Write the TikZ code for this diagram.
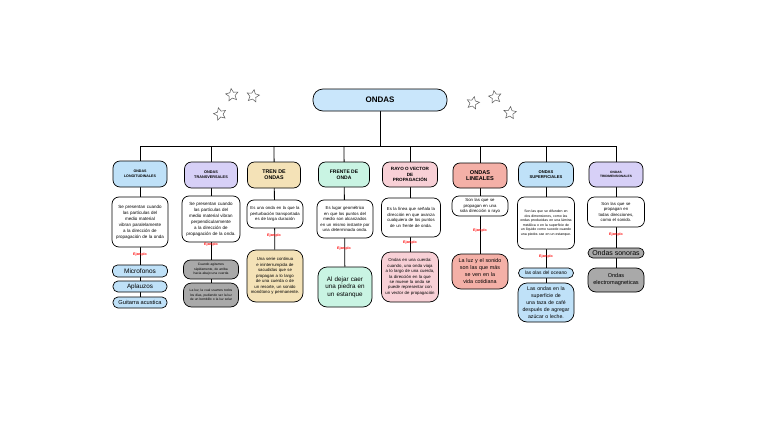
\documentclass[tikz,border=0pt]{standalone}
\usepackage{fontspec}
\setmainfont{Liberation Sans}
\usetikzlibrary{shapes.geometric,backgrounds}
\definecolor{blueC}{HTML}{BFE1F8}
\definecolor{titleC}{HTML}{C9E6FB}
\definecolor{lavC}{HTML}{D7D0F7}
\definecolor{tanC}{HTML}{F4E2B7}
\definecolor{mintC}{HTML}{C9F4E3}
\definecolor{pinkC}{HTML}{F8D0D6}
\definecolor{salmC}{HTML}{F4B0A7}
\definecolor{grayC}{HTML}{A9A9A9}
\newcommand\fsz[2]{\fontsize{#1}{#2}\selectfont}
\hyphenpenalty=10000
\exhyphenpenalty=10000
\lefthyphenmin=60
\righthyphenmin=60
\begin{document}
\begin{tikzpicture}[x=1pt,y=-1pt,
  box/.style={draw=black, line width=0.7pt, rounded corners=7pt, align=center, inner sep=1pt},
  hdr/.style={box, font=\bfseries},
  desc/.style={box, fill=white},
  ejlab/.style={text=red, font=\bfseries\fsz{3.5}{4}, inner sep=0.5pt},
  conn/.style={draw=black, line width=0.8pt},
  starshape/.style={star, star points=5, star point ratio=2.1, minimum size=13pt, inner sep=0pt, draw=black!65, fill=white, line width=0.5pt}]
\path[use as bounding box] (0,0) rectangle (768,431);

% title
\node[box, fill=titleC, rounded corners=10pt, minimum width=134pt, minimum height=22pt, font=\bfseries\fsz{8}{9}] (title) at (380,100) {ONDAS};
\coordinate (bar) at (380,146);

% stars
\node[starshape, rotate=8] (s1) at (232,95) {};
\node[starshape, rotate=-10] (s2) at (253,96) {};
\node[starshape, rotate=15] (s3) at (220,114) {};
\node[starshape, rotate=-12] (s4) at (473,103) {};
\node[starshape, rotate=10] (s5) at (495,97) {};
\node[starshape, rotate=-5] (s6) at (510,113) {};

% column 1
\node[hdr, fill=blueC, minimum width=54pt, minimum height=26pt, font=\bfseries\fsz{3.6}{4.6}] (h1) at (140,174) {ONDAS\\LONGITUDINALES};
\node[desc, minimum width=56pt, minimum height=50pt, text width=52pt, font=\fsz{4.5}{6}] (d1) at (140,222) {Se presentan cuando\\las partículas del medio material vibran paralelamente a la dirección de propagación de la onda};
\node[ejlab] (j1) at (140,255) {Ejemplo};
\node[box, fill=blueC, rounded corners=5pt, minimum width=55pt, minimum height=12pt, font=\fsz{6.5}{7}] (e1a) at (140,271) {Microfonos};
\node[box, fill=blueC, rounded corners=5pt, minimum width=54pt, minimum height=11pt, font=\fsz{6.3}{7}] (e1b) at (140,286.5) {Aplauzos};
\node[box, fill=blueC, rounded corners=5pt, minimum width=54pt, minimum height=11pt, font=\fsz{5.7}{7}] (e1c) at (140,302.5) {Guitarra acustica};

% column 2
\node[hdr, fill=lavC, minimum width=53pt, minimum height=26pt, font=\bfseries\fsz{3.8}{4.8}] (h2) at (211,175) {ONDAS\\TRANSVERSALES};
\node[desc, minimum width=58pt, minimum height=46pt, text width=54pt, font=\fsz{4.5}{6}] (d2) at (211,219) {Se presentan cuando las partículas del medio material vibran perpendicularmente a la dirección de propagación de la onda.};
\node[ejlab] (j2) at (211,245) {Ejemplo};
\node[box, fill=grayC, rounded corners=7pt, minimum width=55pt, minimum height=19pt, text width=48pt, font=\fsz{3.3}{4.5}] (e2a) at (211,269.5) {Cuando agitamos rápidamente, de arriba hacia abajo una cuerda};
\node[box, fill=grayC, rounded corners=8pt, minimum width=55pt, minimum height=24pt, text width=48pt, font=\fsz{3.3}{4.5}] (e2b) at (211,295) {La luz, la cual usamos todos los días, pudiendo ser la luz de un bombillo o la luz solar};

% column 3
\node[hdr, fill=tanC, minimum width=53pt, minimum height=26pt, font=\bfseries\fsz{5.3}{6.3}] (h3) at (274,175) {TREN DE\\ONDAS};
\node[desc, minimum width=56pt, minimum height=28pt, text width=50pt, font=\fsz{4.3}{5.5}] (d3) at (275,214) {Es una onda en la que la perturbación transportada es de larga duración};
\node[ejlab] (j3) at (274,236) {Ejemplo};
\node[box, fill=tanC, rounded corners=9pt, minimum width=56pt, minimum height=52pt, text width=50pt, font=\fsz{4.3}{5.5}] (e3a) at (275,276) {Una serie continua e ininterrumpida de sacudidas que se propagan a lo largo de una cuerda o de un resorte, un sonido monótono y permanente.};

% column 4
\node[hdr, fill=mintC, minimum width=51pt, minimum height=25pt, font=\bfseries\fsz{5}{6}] (h4) at (344,174.5) {FRENTE DE\\ONDA};
\node[desc, minimum width=56pt, minimum height=38pt, text width=52pt, font=\fsz{4.3}{5.5}] (d4) at (345,219) {Es lugar geométrico en que los puntos del medio son alcanzados en un mismo instante por una determinada onda.};
\node[ejlab] (j4) at (344,249) {Ejemplo};
\node[box, fill=mintC, rounded corners=9pt, minimum width=54pt, minimum height=40pt, text width=50pt, font=\fsz{6.3}{7.5}] (e4a) at (345,287) {Al dejar caer una piedra en un estanque};

% column 5
\node[hdr, fill=pinkC, minimum width=55pt, minimum height=25pt, font=\bfseries\fsz{4.6}{5.6}] (h5) at (410,174.5) {RAYO O VECTOR\\DE\\PROPAGACIÓN};
\node[desc, minimum width=59pt, minimum height=39pt, text width=54pt, font=\fsz{4.3}{5.5}] (d5) at (411,217.5) {Es la línea que señala la dirección en que avanza cualquiera de los puntos de un frente de onda.};
\node[ejlab] (j5) at (410,243) {Ejemplo};
\node[box, fill=pinkC, rounded corners=9pt, minimum width=57pt, minimum height=50pt, text width=55pt, font=\fsz{4.3}{5.4}] (e5a) at (410,277) {Ondas en una cuerda: cuando, una onda viaja a lo largo de una cuerda, la dirección en la que se mueve la onda se puede representar con un vector de propagación};

% column 6
\node[hdr, fill=salmC, minimum width=54pt, minimum height=25pt, font=\bfseries\fsz{5.6}{6.6}] (h6) at (480,175.5) {ONDAS\\LINEALES};
\node[desc, minimum width=56pt, minimum height=20pt, text width=52pt, font=\fsz{4.3}{5.5}] (d6) at (480,206) {Son las que se\\propagan en una sola dirección o rayo};
\node[ejlab] (j6) at (480,231) {Ejemplo};
\node[box, fill=salmC, rounded corners=9pt, minimum width=56pt, minimum height=35pt, text width=53pt, font=\fsz{5.4}{7}] (e6a) at (480,271.5) {La luz y el sonido son las que más se ven en la vida cotidiana};

% column 7
\node[hdr, fill=blueC, minimum width=55pt, minimum height=25pt, font=\bfseries\fsz{4.1}{5.1}] (h7) at (546,174.5) {ONDAS\\SUPERFICIALES};
\node[desc, minimum width=57pt, minimum height=52pt, text width=52pt, font=\fsz{3.5}{4.6}] (d7) at (546,223) {Son las que se difunden en dos dimensiones, como las ondas producidas en una lámina metálica o en la superficie de un líquido como sucede cuando una piedra cae en un estanque.};
\node[ejlab] (j7) at (546,257) {Ejemplo};
\node[box, fill=blueC, rounded corners=5pt, minimum width=55pt, minimum height=10pt, font=\fsz{4.9}{6}] (e7a) at (546,273) {las olas del oceano};
\node[box, fill=blueC, rounded corners=9pt, minimum width=56pt, minimum height=39pt, text width=54pt, font=\fsz{5.2}{6.9}] (e7b) at (546,302.5) {Las ondas en la superficie de una taza de café después de agregar azúcar o leche.};

% column 8
\node[hdr, fill=lavC, minimum width=54pt, minimum height=25pt, font=\bfseries\fsz{3.2}{4.2}] (h8) at (616,174.5) {ONDAS\\TRIDIMENSIONALES};
\node[desc, minimum width=57pt, minimum height=30pt, text width=53pt, font=\fsz{4.3}{5.5}] (d8) at (616,212) {Son las que se\\propagan en todas direcciones, como el sonido.};
\node[ejlab] (j8) at (616,235) {Ejemplo};
\node[box, fill=grayC, rounded corners=5pt, minimum width=56pt, minimum height=10pt, font=\fsz{7}{8}] (e8a) at (616,253) {Ondas sonoras};
\node[box, fill=grayC, rounded corners=8pt, minimum width=56pt, minimum height=24pt, text width=54pt, font=\fsz{5.6}{7}] (e8b) at (616,280) {Ondas\\electromagneticas};

% connectors
\begin{pgfonlayer}{background}
\fill[white] (0,0) rectangle (768,431);
\draw[conn] (title) -- (title |- bar);
\draw[conn] (h1.north |- bar) -- (h8.north |- bar);
\foreach \h/\l in {h1/e1c,h2/e2b,h3/e3a,h4/e4a,h5/e5a,h6/e6a,h7/e7b,h8/e8b}{
  \draw[conn] (\h.north |- bar) -- (\l);
}
\end{pgfonlayer}
\end{tikzpicture}
\end{document}
